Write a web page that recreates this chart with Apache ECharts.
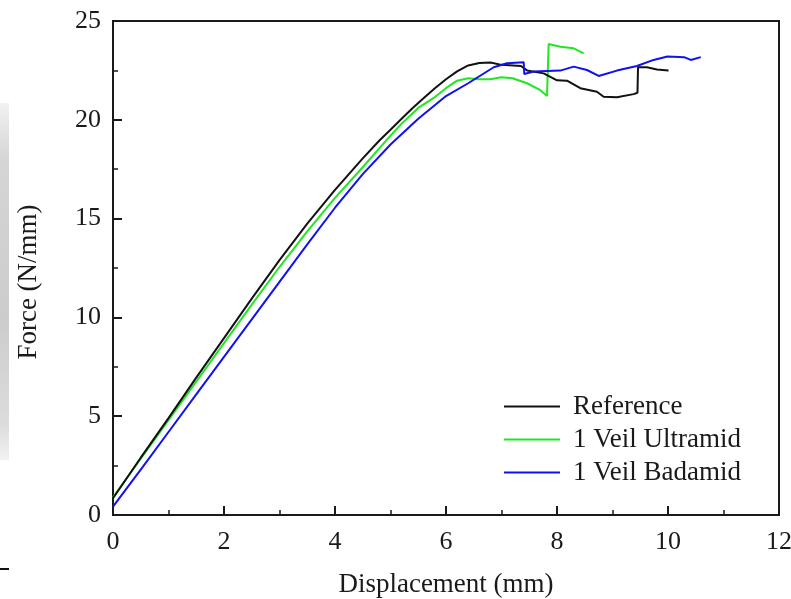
<!DOCTYPE html>
<html>
<head>
<meta charset="utf-8">
<script src="https://cdn.jsdelivr.net/npm/echarts@6/dist/echarts.min.js"></script>
<style>
html,body{margin:0;padding:0;background:#fff;}
#chart{width:791px;height:599px;}
</style>
</head>
<body>
<div id="chart"></div>
<script>
const seriesNames = ['Reference', '1 Veil Ultramid', '1 Veil Badamid'];

const refX = [0, 0.5, 1, 1.5, 2, 2.5, 3, 3.5, 4, 4.5, 4.8, 5.0, 5.2, 5.4, 5.6, 5.8, 6.0, 6.2, 6.4, 6.6, 6.8, 7.0, 7.35, 7.46, 7.76, 8.0, 8.18, 8.42, 8.72, 8.84, 9.08, 9.38, 9.45, 9.46, 9.62, 9.8, 10.01];
const refY = [0.85, 2.9, 4.9, 6.95, 8.95, 10.95, 12.9, 14.75, 16.45, 18.05, 18.95, 19.5, 20.05, 20.6, 21.1, 21.6, 22.05, 22.45, 22.75, 22.87, 22.9, 22.78, 22.72, 22.5, 22.35, 22.0, 21.98, 21.6, 21.42, 21.17, 21.14, 21.3, 21.37, 22.66, 22.66, 22.55, 22.49];

const ultX = [0, 0.5, 1, 1.5, 2, 2.5, 3, 3.5, 4, 4.5, 5.0, 5.2, 5.5, 5.8, 6.0, 6.2, 6.4, 6.6, 6.8, 7.0, 7.2, 7.46, 7.7, 7.82, 7.85, 8.06, 8.3, 8.48];
const ultY = [0.9, 2.85, 4.8, 6.75, 8.7, 10.65, 12.55, 14.35, 16.05, 17.6, 19.2, 19.8, 20.6, 21.15, 21.6, 21.98, 22.1, 22.05, 22.05, 22.15, 22.1, 21.85, 21.5, 21.2, 23.84, 23.7, 23.62, 23.36];

const badX = [0, 0.5, 1, 1.5, 2, 2.5, 3, 3.5, 4, 4.5, 5, 5.5, 6, 6.4, 6.86, 7.1, 7.4, 7.41, 7.58, 8.06, 8.3, 8.54, 8.75, 9.08, 9.44, 9.74, 9.99, 10.29, 10.41, 10.59];
const badY = [0.42, 2.3, 4.2, 6.1, 8.0, 9.9, 11.8, 13.7, 15.55, 17.25, 18.75, 20.05, 21.2, 21.85, 22.66, 22.86, 22.91, 22.32, 22.44, 22.49, 22.69, 22.52, 22.22, 22.49, 22.72, 23.03, 23.2, 23.17, 23.03, 23.17];

const xTicks = [0, 2, 4, 6, 8, 10, 12];
const yTicks = [0, 5, 10, 15, 20, 25];

const zip = (xs, ys) => xs.map((x, i) => [x, ys[i]]);
const colors = ['#111111', '#22e622', '#1010f0'];
const FONT = '"Liberation Serif", "Times New Roman", serif';

const chart = echarts.init(document.getElementById('chart'), null, {renderer: 'canvas'});

const axisCommon = {
  axisLine: {show: true, onZero: false, lineStyle: {color: '#1a1a1a', width: 2}},
  axisTick: {show: true, inside: true, length: 9, lineStyle: {color: '#1a1a1a', width: 2}},
  minorTick: {show: true, splitNumber: 2, length: 5, lineStyle: {color: '#1a1a1a', width: 1.5}},
  splitLine: {show: false},
  axisLabel: {color: '#1a1a1a', fontFamily: FONT, fontSize: 26}
};

chart.setOption({
  backgroundColor: '#ffffff',
  animation: false,
  grid: {left: 113, right: 12, top: 21, bottom: 84, containLabel: false, outerBoundsMode: 'none',
    show: true, borderColor: '#1a1a1a', borderWidth: 2, backgroundColor: 'transparent'},
  xAxis: Object.assign({}, axisCommon, {
    type: 'value', min: xTicks[0], max: xTicks[xTicks.length - 1], interval: 2,
    name: 'Displacement (mm)', nameLocation: 'middle', nameGap: 56,
    nameTextStyle: {color: '#1a1a1a', fontFamily: FONT, fontSize: 27},
    axisLabel: Object.assign({}, axisCommon.axisLabel, {margin: 14})
  }),
  yAxis: Object.assign({}, axisCommon, {
    type: 'value', min: yTicks[0], max: yTicks[yTicks.length - 1], interval: 5,
    axisLabel: Object.assign({}, axisCommon.axisLabel, {margin: 12})
  }),
  legend: {
    orient: 'vertical', left: 499, top: 388, itemWidth: 56, itemHeight: 14, itemGap: 6,
    icon: 'path://M0,6 L56,6 L56,8 L0,8 Z',
    textStyle: {color: '#1a1a1a', fontFamily: FONT, fontSize: 27, lineHeight: 27, padding: [0, 0, 0, 8]},
    data: seriesNames
  },
  graphic: [
    {type: 'rect', shape: {x: 0, y: 103, width: 9, height: 357},
      style: {fill: new echarts.graphic.LinearGradient(0, 0, 0, 1, [{offset: 0, color: '#f2f2f2'}, {offset: 0.15, color: '#d6d6d6'}, {offset: 0.6, color: '#cccccc'}, {offset: 0.9, color: '#dcdcdc'}, {offset: 1, color: '#f2f2f2'}])}},
    {type: 'rect', shape: {x: 0, y: 568, width: 9, height: 2}, style: {fill: '#111'}},
    {type: 'text', x: 29, y: 282, rotation: Math.PI / 2,
      style: {text: 'Force (N/mm)', font: '27px ' + FONT, fill: '#1a1a1a', textAlign: 'center', textVerticalAlign: 'middle'}}
  ],
  series: [
    {name: seriesNames[0], type: 'line', data: zip(refX, refY), showSymbol: false, symbol: 'none', lineStyle: {color: colors[0], width: 2}, itemStyle: {color: colors[0]}, z: 3},
    {name: seriesNames[1], type: 'line', data: zip(ultX, ultY), showSymbol: false, symbol: 'none', lineStyle: {color: colors[1], width: 2}, itemStyle: {color: colors[1]}, z: 2},
    {name: seriesNames[2], type: 'line', data: zip(badX, badY), showSymbol: false, symbol: 'none', lineStyle: {color: colors[2], width: 2}, itemStyle: {color: colors[2]}, z: 4}
  ]
});
</script>
</body>
</html>
